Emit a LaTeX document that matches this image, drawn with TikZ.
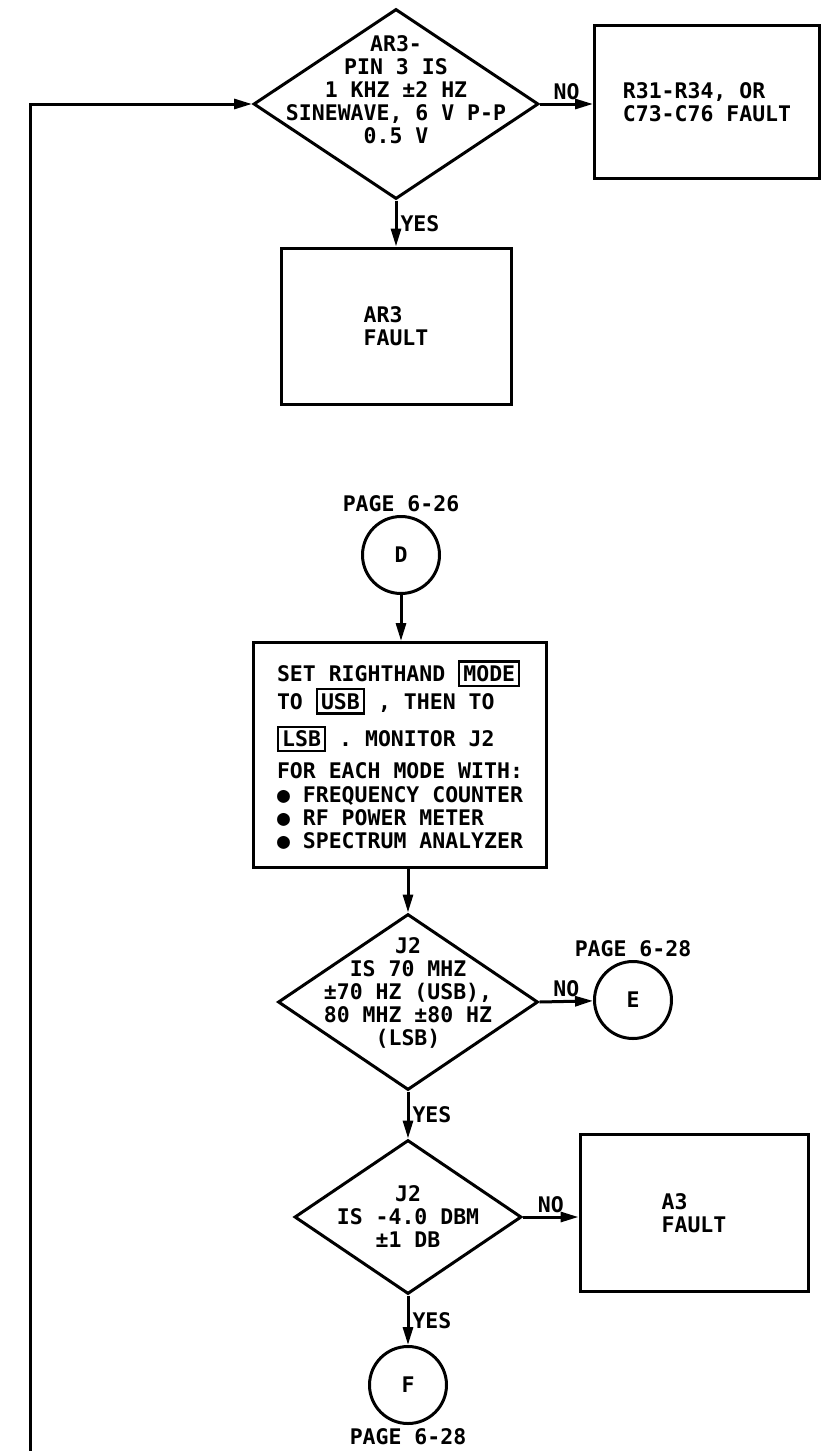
\documentclass[tikz,border=0pt]{standalone}
\usepackage{fontspec}
\setmonofont{DejaVu Sans Mono}
\usetikzlibrary{shapes.geometric,arrows.meta}
\newcommand{\keybox}[1]{{\setlength{\fboxsep}{3pt}\setlength{\fboxrule}{2.2pt}\fbox{#1}}}

\begin{document}
\begin{tikzpicture}[x=1pt,y=-1pt,
  every node/.style={font=\ttfamily\bfseries\fontsize{21.5}{23}\selectfont},
  blk/.style={draw,line width=3pt,inner sep=0pt,align=left},
  dec/.style={draw,diamond,line width=3pt,inner sep=0pt},
  conn/.style={draw,circle,line width=3pt,minimum size=77,inner sep=0pt},
  arr/.style={line width=3pt,-{Triangle[length=18pt,width=10pt]}},
  lbl/.style={inner sep=3pt}]
  \useasboundingbox (0,0) rectangle (822,1451);

  \node (d1) at (396,104) [dec,minimum width=285,minimum height=190] {};
  \node (d1t) at (d1) [yshift=14pt,align=center] {AR3-\\PIN 3 IS\\1 KHZ ±2 HZ\\SINEWAVE, 6 V P-P\\0.5 V};
  \node (r31) at (707,102) [blk,minimum width=225,minimum height=153] {R31-R34, OR\\C73-C76 FAULT};
  \node (ar3) at (396,326) [blk,minimum width=230,minimum height=156] {AR3\\FAULT};

  \node (pd) at (401,555) [conn,label={[lbl]above:PAGE 6-26}] {D};
  \node (set) at (400,755) [blk,minimum width=293,minimum height=225] {SET RIGHTHAND \keybox{MODE}\\
    TO \keybox{USB} , THEN TO\\[10pt]
    \keybox{LSB} . MONITOR J2\\[9pt]
    FOR EACH MODE WITH:\\[1pt]
    ● FREQUENCY COUNTER\\
    ● RF POWER METER\\
    ● SPECTRUM ANALYZER};

  \node (d2) at (408,1002) [dec,minimum width=260,minimum height=176] {};
  \node (d2t) at (d2) [yshift=9pt,align=center] {J2\\IS 70 MHZ\\±70 HZ (USB),\\80 MHZ ±80 HZ\\(LSB)};
  \node (pe) at (633,1000) [conn,label={[lbl]above:PAGE 6-28}] {E};

  \node (d3) at (408,1217) [dec,minimum width=227,minimum height=154] {};
  \node (d3t) at (d3) [align=center] {J2\\IS -4.0 DBM\\±1 DB};
  \node (a3) at (694,1213) [blk,minimum width=228,minimum height=157] {A3\\FAULT};
  \node (pf) at (408,1385) [conn,label={[lbl]below:PAGE 6-28}] {F};

  \coordinate (loopin) at (30,1451);
  \draw[arr] (loopin) |- (d1.west);
  \draw[arr] (d1.east) -- node[lbl,above]{NO} (d1.east -| r31.west);
  \draw[arr] (d1.south) -- node[lbl,right]{YES} (ar3);
  \draw[arr] (pd) -- (pd |- set.north);
  \draw[arr] (d2.north |- set.south) -- (d2.north);
  \draw[arr] (d2.east) -- node[lbl,above]{NO} (pe);
  \draw[arr] (d2.south) -- node[lbl,right]{YES} (d3.north);
  \draw[arr] (d3.east) -- node[lbl,above]{NO} (d3.east -| a3.west);
  \draw[arr] (d3.south) -- node[lbl,right]{YES} (pf);
\end{tikzpicture}
\end{document}
